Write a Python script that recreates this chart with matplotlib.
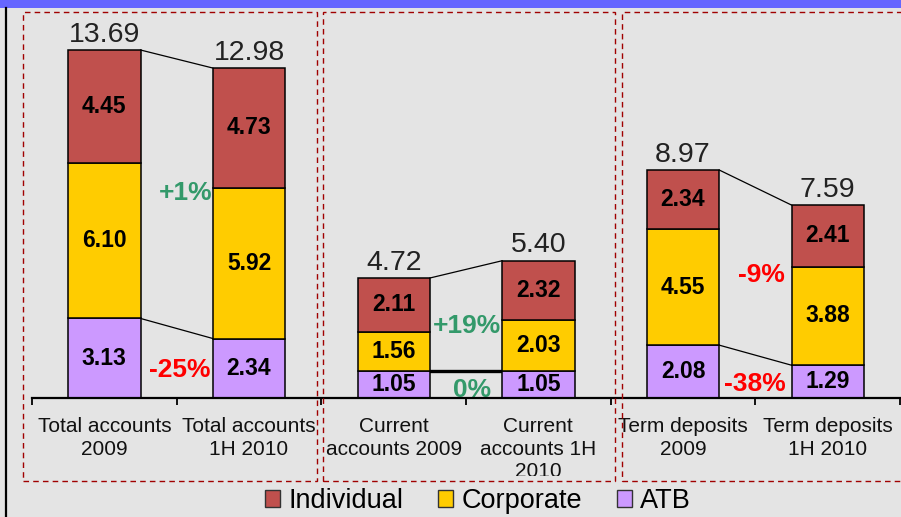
import numpy as np
import matplotlib
matplotlib.use("Agg")
from matplotlib import pyplot as plt
from matplotlib.patches import Rectangle, Patch
from matplotlib.transforms import Bbox

plt.rcParams["font.family"] = ["Liberation Sans", "DejaVu Sans"]

categories = ["Total accounts\n2009", "Total accounts\n1H 2010",
              "Current\naccounts 2009", "Current\naccounts 1H\n2010",
              "Term deposits\n2009", "Term deposits\n1H 2010"]
atb = [3.13, 2.34, 1.05, 1.05, 2.08, 1.29]
corporate = [6.10, 5.92, 1.56, 2.03, 4.55, 3.88]
individual = [4.45, 4.73, 2.11, 2.32, 2.34, 2.41]
totals = [13.69, 12.98, 4.72, 5.40, 8.97, 7.59]
changes = ["+1%", "-25%", "+19%", "0%", "-9%", "-38%"]

# where the change labels sit (data coords) and their colour
change_pos = [(0.56, 8.06), (0.52, 1.10), (2.51, 2.83), (2.54, 0.31), (4.54, 4.84), (4.50, 0.55)]
change_col = ["#33996a", "#ff0000", "#33996a", "#33996a", "#ff0000", "#ff0000"]

W, H = 901, 517
fig = plt.figure(figsize=(W / 100, H / 100), dpi=100)
fig.patch.set_facecolor("#e4e4e4")

def px(x0, y0, x1, y1):
    # pixel box -> figure fraction rect (x, y, w, h)
    return (x0 / W, 1 - y1 / H, (x1 - x0) / W, (y1 - y0) / H)

# blue band on top, black left edge
fig.patches.append(Rectangle(px(0, 0, W, 8)[:2], 1, 8 / H, transform=fig.transFigure,
                             facecolor="#6666ff", edgecolor="none", zorder=0))
fig.add_artist(plt.Line2D([6 / W, 6 / W], [0, 1 - 8 / H], transform=fig.transFigure,
                          color="black", lw=1.6))

# dashed group boxes
for (x0, x1) in [(23, 317), (323, 615), (622, 910)]:
    r = px(x0, 12, x1, 481)
    fig.add_artist(Rectangle(r[:2], r[2], r[3], transform=fig.transFigure, fill=False,
                             edgecolor="#a00000", lw=1.0, linestyle=(0, (4, 3))))

ax = fig.add_axes(px(32, 8, 900, 398))
ax.set_facecolor("none")
x = np.arange(len(categories))
bw = 0.5
ax.bar(x, atb, bw, color="#cc99ff", edgecolor="black", lw=1.1, zorder=3)
ax.bar(x, corporate, bw, bottom=atb, color="#ffcc00", edgecolor="black", lw=1.1, zorder=3)
bot2 = np.array(atb) + np.array(corporate)
ax.bar(x, individual, bw, bottom=bot2, color="#c0504d", edgecolor="black", lw=1.1, zorder=3)

for i in x:
    for val, base in [(atb[i], 0), (corporate[i], atb[i]), (individual[i], bot2[i])]:
        ax.text(i, base + val / 2, f"{val:.2f}", ha="center", va="center",
                fontsize=16.5, fontweight="bold", color="black", zorder=5)
    ax.annotate(f"{totals[i]:.2f}", (i, totals[i]), xytext=(0, 6), textcoords="offset points",
                ha="center", va="baseline", fontsize=20.5, color="#222222")

# connector lines between paired bars
for i in [0, 2, 4]:
    ax.plot([i + bw / 2, i + 1 - bw / 2], [totals[i], totals[i + 1]], color="black", lw=0.9, zorder=2)
    if i == 2:
        ax.plot([i + bw / 2 + 0.01, i + 1 - bw / 2 - 0.01], [atb[i], atb[i + 1]], color="black", lw=2.4, zorder=2)
    else:
        ax.plot([i + bw / 2, i + 1 - bw / 2], [atb[i], atb[i + 1]], color="black", lw=0.9, zorder=2)

for lab, (cx, cy), c in zip(changes, change_pos, change_col):
    ax.text(cx, cy, lab, ha="center", va="center", fontsize=19, fontweight="bold", color=c, zorder=1)

ax.set_xlim(-0.5, 5.5)
ax.set_ylim(0, 390 / 25.42)
for s in ["top", "right", "left"]:
    ax.spines[s].set_visible(False)
ax.spines["bottom"].set_linewidth(1.6)
ax.spines["bottom"].set_zorder(6)
ax.set_yticks([])
ax.set_xticks(np.arange(-0.5, 6, 1))
ax.set_xticklabels([])
ax.tick_params(axis="x", which="major", length=5, width=1.3, direction="out")

# category labels, clipped just above the bottom of the dashed boxes
clip = Bbox.from_extents(0, H - 476, W, H)
for i, lab in enumerate(categories):
    t = ax.annotate(lab, (i, 0), xytext=(0, -14), textcoords="offset points",
                    ha="center", va="top", fontsize=15, linespacing=1.22,
                    color="#111111", annotation_clip=False)
    t.set_clip_box(clip)
    t.set_clip_on(True)

handles = [Patch(facecolor="#c0504d", edgecolor="#333333", lw=1),
           Patch(facecolor="#ffcc00", edgecolor="#333333", lw=1),
           Patch(facecolor="#cc99ff", edgecolor="#333333", lw=1)]
fig.legend(handles, ["Individual", "Corporate", "ATB"], loc="center", bbox_to_anchor=(478 / W, 1 - 501 / H),
           ncol=3, frameon=False, fontsize=19.5, handlelength=0.55, handleheight=0.55,
           handletextpad=0.3, columnspacing=1.3, borderpad=0)

fig.savefig("out.png", dpi=100, facecolor=fig.get_facecolor())
